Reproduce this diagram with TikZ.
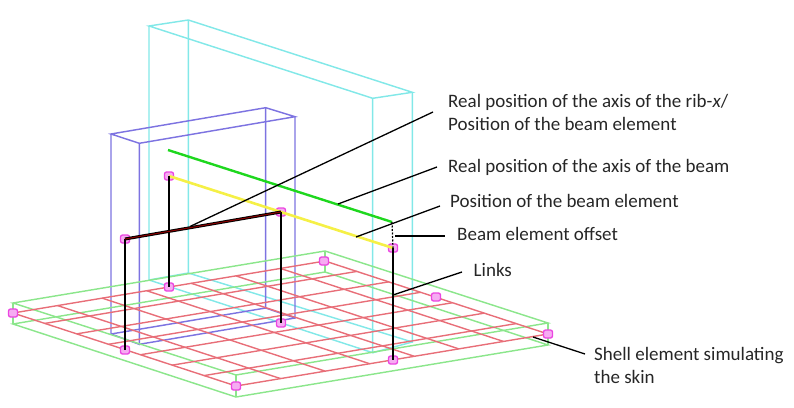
\documentclass[tikz,border=0pt]{standalone}
\usepackage{fontspec}
\setmainfont{Carlito}
\definecolor{cyanline}{RGB}{130,232,232}
\definecolor{blueline}{RGB}{125,115,225}
\definecolor{greenline}{RGB}{140,230,140}
\definecolor{redline}{RGB}{232,110,120}
\definecolor{beamgreen}{RGB}{30,215,30}
\definecolor{beamyellow}{RGB}{245,240,70}
\definecolor{marker}{RGB}{235,70,225}
\tikzset{
  cyanwire/.style={draw=cyanline,line width=1.45pt},
  bluewire/.style={draw=blueline,line width=1.45pt},
  platewire/.style={draw=greenline,line width=1.45pt},
  meshwire/.style={draw=redline,line width=1.4pt},
  linkbar/.style={draw=black,line width=2.4pt},
  leader/.style={draw=black,line width=1.3pt},
  label/.style={font=\fontsize{19}{23}\selectfont,anchor=west,inner sep=0pt,align=left,text=black!85},
  mk/.style={rectangle,rounded corners=2pt,draw=marker,fill=marker!45,line width=1.3pt,minimum width=9pt,minimum height=8pt,inner sep=0pt},
}
\begin{document}
\begin{tikzpicture}[x=1pt,y=-1pt]
\useasboundingbox (0,0) rectangle (794,407);
% cyan frame
\draw[cyanwire] (149,26)--(188.3,20)--(412.3,92.3)--(372.7,98.3)--cycle;
\draw[cyanwire] (149,26)--(149,280)--(372.7,352.7)--(372.7,98.3);
\draw[cyanwire] (188.3,20)--(188.3,273)--(412.3,342)--(412.3,92.3);
\draw[cyanwire] (149,280)--(188.3,273) (372.7,352.7)--(412.3,342);
% blue frame
\draw[bluewire] (111,134)--(265.7,107.7)--(295,116.7)--(139.3,143.3)--cycle;
\draw[bluewire] (111,134)--(111,334)--(139.3,344.3)--(139.3,143.3);
\draw[bluewire] (265.7,107.7)--(265.7,308)--(295,318)--(295,116.7);
\draw[bluewire] (111,334)--(265.7,308) (139.3,344.3)--(295,318);
% plate
\draw[platewire] (13,303)--(236,375)--(548,323)--(325,251)--cycle;
\draw[platewire] (13,324)--(236,397)--(548,345)--(325,272)--cycle;
\draw[platewire] (13,303)--(13,324) (236,375)--(236,397) (548,323)--(548,345) (325,251)--(325,272);
% mesh
\foreach \k in {0,...,7}{
  \pgfmathsetmacro\t{\k/7}
  \draw[meshwire] ({13+223*\t},{313+73*\t})--({325+223*\t},{261+73*\t});
  \draw[meshwire] ({13+312*\t},{313-52*\t})--({236+312*\t},{386-52*\t});
}
% markers
\node[mk] (a1) at (169,176) {};
\node[mk] (a2) at (125,239) {};
\node[mk] (a3) at (281,212) {};
\node[mk] (a4) at (393,248) {};
\node[mk] (b1) at (169,287) {};
\node[mk] (b2) at (125,350) {};
\node[mk] (b3) at (281,323) {};
\node[mk] (b4) at (393,360) {};
\node[mk] (c1) at (13,313) {};
\node[mk] (c2) at (236,386) {};
\node[mk] (c3) at (548,334) {};
\node[mk] (c4) at (324,261) {};
\node[mk] (c5) at (436,297) {};
% beams
\coordinate (g1) at (168,150);
\coordinate (g2) at (392,222);
\draw[draw=beamgreen,line width=2.4pt] (g1)--(g2);
\draw[draw=beamyellow,line width=2.6pt] (a1.center)--(a4.center);
\draw[draw=black,dash pattern=on 2pt off 1.5pt,line width=1.2pt] (g2)--(a4.center);
% links
\draw[linkbar] (a1.center)--(b1.center);
\draw[linkbar] (a2.center)--(b2.center);
\draw[linkbar] (a3.center)--(b3.center);
\draw[linkbar] (a4.center)--(b4.center);
\draw[draw=black,line width=3pt] (a2.center)--(a3.center);
\draw[draw=red!55!black,line width=1pt] (a2.center)--(a3.center);
% labels
\node[label] (t1) at (448,112.5) {Real position of the axis of the rib-\textit{x}/\\Position of the beam element};
\node[label] (t2) at (448,167) {Real position of the axis of the beam};
\node[label] (t3) at (450,201) {Position of the beam element};
\node[label] (t4) at (457,234) {Beam element offset};
\node[label] (t5) at (473.5,270) {Links};
\node[label] (t6) at (594,365.5) {Shell element simulating\\the skin};
% leaders
\coordinate (l1a) at (190,226.5); \coordinate (l1b) at (433,112);
\coordinate (l2a) at (338,204);   \coordinate (l2b) at (437,167);
\coordinate (l3a) at (356,237);   \coordinate (l3b) at (440,206);
\coordinate (l4a) at (395,236);   \coordinate (l4b) at (445,236);
\coordinate (l5a) at (393,295);   \coordinate (l5b) at (462,272);
\coordinate (l6a) at (533,337);   \coordinate (l6b) at (585,354);
\draw[leader] (l1a)--(l1b);
\draw[leader] (l2a)--(l2b);
\draw[leader] (l3a)--(l3b);
\draw[leader] (l4a)--(l4b);
\draw[leader] (l5a)--(l5b);
\draw[leader] (l6a)--(l6b);
\end{tikzpicture}
\end{document}
